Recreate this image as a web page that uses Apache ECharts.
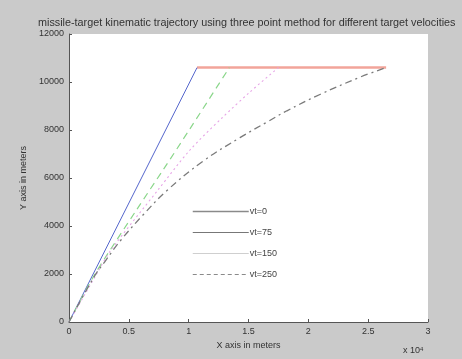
<!DOCTYPE html>
<html>
<head>
<meta charset="utf-8">
<script src="https://cdn.jsdelivr.net/npm/echarts@6/dist/echarts.min.js"></script>
<style>
  html, body { margin: 0; padding: 0; background: #cacaca; }
  #chart { width: 462px; height: 359px; }
</style>
</head>
<body>
<div id="chart"></div>
<script>
// Axis ranges and tick labels
const xTicks = [0, 5000, 10000, 15000, 20000, 25000, 30000];
const yTicks = [0, 2000, 4000, 6000, 8000, 10000, 12000];

// Legend names
const seriesNames = ['vt=0', 'vt=75', 'vt=150', 'vt=250'];

// Missile trajectories [x (m), y (m)] for each target velocity
const trajVt0 = [[0, 0], [10700, 10600]];
const trajVt75 = [[0, 0], [2122, 1958], [5681, 4700], [7853, 6330], [10108, 8050], [13400, 10600]];
const trajVt150 = [[0, 0], [2256, 1958], [3509, 3000], [7435, 5500], [10108, 7167], [12782, 8500], [15121, 9583], [17500, 10600]];
const trajVt250 = [[0, 0], [2089, 1875], [3091, 2583], [4344, 3417], [6182, 4458], [8187, 5480], [11194, 6700],
                   [14285, 7680], [16541, 8330], [18212, 8800], [20969, 9480], [24310, 10200], [26500, 10600]];
// Target flight path at constant altitude
const targetPath = [[10700, 10600], [26500, 10600]];

const FONT = 'Liberation Sans, Arial, sans-serif';
const chart = echarts.init(document.getElementById('chart'));

const hidden = { opacity: 0 };

chart.setOption({
  backgroundColor: '#cacaca',
  animation: false,
  title: {
    text: 'missile-target kinematic trajectory using three point method for different target velocities',
    left: 33, top: 13,
    textStyle: { fontSize: 10.8, fontWeight: 'normal', color: '#333', fontFamily: FONT }
  },
  grid: { left: 69, right: 34, top: 34, bottom: 37, show: true, backgroundColor: '#ffffff', borderWidth: 0 },
  legend: {
    orient: 'vertical', left: 187, top: 202,
    itemWidth: 56, itemHeight: 10, itemGap: 12,
    textStyle: { fontSize: 9, color: '#444', fontFamily: FONT, padding: [0, 0, 0, -4] },
    data: [
      { name: seriesNames[0], itemStyle: hidden, lineStyle: { color: '#8a8a8a', width: 1.5, type: 'solid' } },
      { name: seriesNames[1], itemStyle: hidden, lineStyle: { color: '#777777', width: 1, type: 'solid' } },
      { name: seriesNames[2], itemStyle: hidden, lineStyle: { color: '#cfcfcf', width: 1, type: 'solid' } },
      { name: seriesNames[3], itemStyle: hidden, lineStyle: { color: '#8a8a8a', width: 1, type: [4, 3] } }
    ]
  },
  xAxis: {
    type: 'value', min: xTicks[0], max: xTicks[xTicks.length - 1], interval: 5000,
    name: 'X axis in meters', nameLocation: 'middle', nameGap: 18,
    nameTextStyle: { fontSize: 9, color: '#333', fontFamily: FONT },
    axisLine: { lineStyle: { color: '#555', width: 1 } },
    axisTick: { inside: true, length: 3, lineStyle: { color: '#555' } },
    axisLabel: { fontSize: 9, color: '#333', fontFamily: FONT, margin: 5,
                 formatter: v => String(v / 10000) },
    splitLine: { show: false }
  },
  yAxis: {
    type: 'value', min: yTicks[0], max: yTicks[yTicks.length - 1], interval: 2000,
    name: 'Y axis in meters', nameLocation: 'middle', nameGap: 39, nameRotate: 90,
    nameTextStyle: { fontSize: 9, color: '#333', fontFamily: FONT },
    axisLine: { show: true, lineStyle: { color: '#555', width: 1 } },
    axisTick: { show: true, inside: true, length: 3, lineStyle: { color: '#555' } },
    axisLabel: { fontSize: 9, color: '#333', fontFamily: FONT, margin: 5, formatter: v => String(v) },
    splitLine: { show: false }
  },
  graphic: [{
    type: 'text', left: 403, top: 346,
    style: {
      text: '{a|x 10}{b|4}',
      rich: {
        a: { fontSize: 9, fill: '#333', fontFamily: FONT, padding: [4, 0, 0, 0] },
        b: { fontSize: 6, fill: '#333', fontFamily: FONT }
      }
    }
  }],
  series: [
    { name: 'target', type: 'line', data: targetPath, symbol: 'none',
      lineStyle: { color: '#f2a49a', width: 2.5 }, z: 1 },
    { name: seriesNames[0], type: 'line', data: trajVt0, symbol: 'none',
      lineStyle: { color: '#5566cc', width: 1 }, z: 3 },
    { name: seriesNames[1], type: 'line', data: trajVt75, symbol: 'none', smooth: 0.3,
      lineStyle: { color: '#8ad68a', width: 1.2, type: [7, 5] }, z: 3 },
    { name: seriesNames[2], type: 'line', data: trajVt150, symbol: 'none', smooth: 0.3,
      lineStyle: { color: '#e6a3e6', width: 1.1, type: [2, 3] }, z: 3 },
    { name: seriesNames[3], type: 'line', data: trajVt250, symbol: 'none', smooth: 0.4,
      lineStyle: { color: '#7a7a7a', width: 1.3, type: [7, 4, 2, 4] }, z: 3 }
  ]
});
</script>
</body>
</html>
